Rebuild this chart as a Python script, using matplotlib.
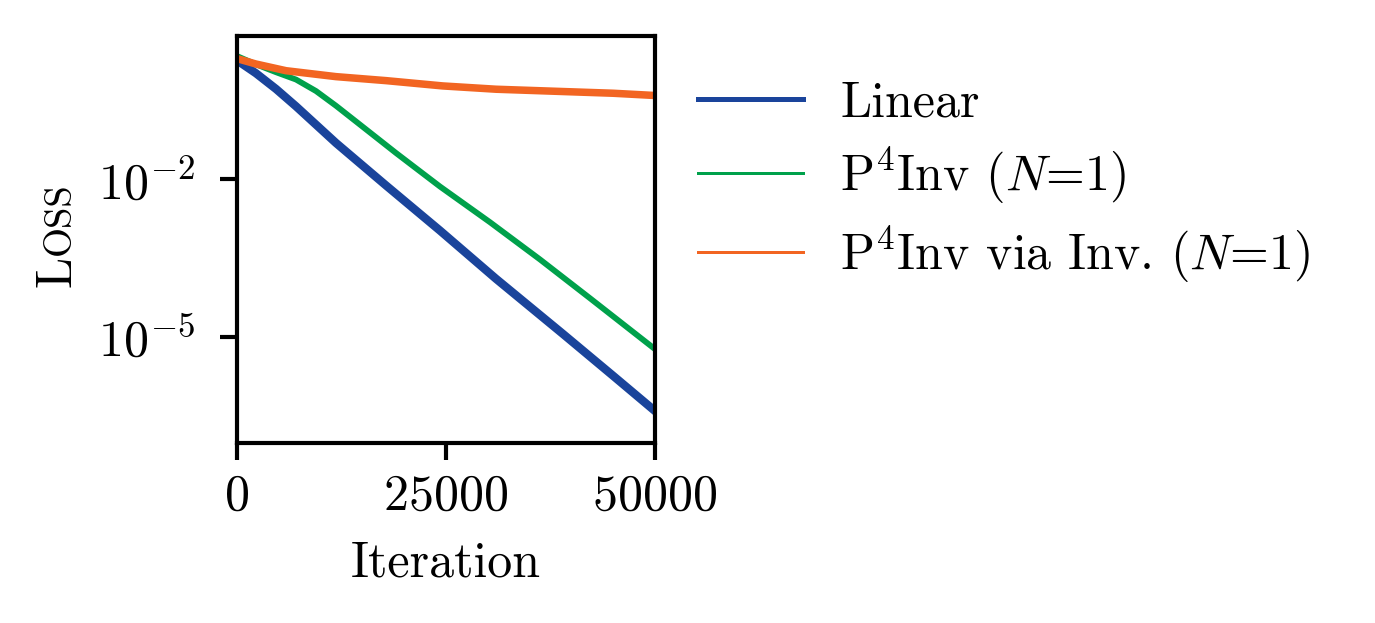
import matplotlib
matplotlib.use("Agg")
import matplotlib.pyplot as plt
import numpy as np

plt.rcParams['font.family'] = 'cmr10'
plt.rcParams['mathtext.fontset'] = 'cm'
plt.rcParams['axes.formatter.use_mathtext'] = True
plt.rcParams['font.size'] = 12

# Data (iteration, loss)
it_linear = [0, 2300, 4700, 7090, 9480, 11870, 17850, 24300, 31000, 39000, 45000, 50000]
loss_linear = [1.862, 1.047, 0.525, 0.245, 0.1096, 0.0490, 7.59e-3, 1.047e-3, 1.26e-4,
               1.12e-5, 1.78e-6, 3.80e-7]

it_p4 = [0, 2300, 4700, 7090, 9480, 11870, 14260, 16650, 19040, 21500, 24300,
         30280, 36250, 42230, 50000]
loss_p4 = [2.239, 1.549, 1.096, 0.794, 0.479, 0.251, 0.1259, 0.0631, 0.0316, 0.01585,
           7.24e-3, 1.51e-3, 2.95e-4, 5.37e-5, 5.75e-6]

it_inv = [0, 2300, 5900, 11870, 17850, 24620, 31000, 39000, 45000, 50000]
loss_inv = [2.00, 1.57, 1.17, 0.902, 0.757, 0.600, 0.519, 0.469, 0.435, 0.394]

labels = ["Linear", r"P$^4$Inv ($N$=1)", r"P$^4$Inv via Inv. ($N$=1)"]
colors = ["#1A449B", "#00A14B", "#F26522"]

W, H = 1375, 623
fig = plt.figure(figsize=(W / 300, H / 300), dpi=300)
ax = fig.add_axes([236.7 / W, 1 - 443 / H, (655 - 236.7) / W, (443 - 36) / H])

l1, = ax.plot(it_linear, loss_linear, color=colors[0], lw=2.0, label=labels[0])
l2, = ax.plot(it_p4, loss_p4, color=colors[1], lw=1.4, label=labels[1])
l3, = ax.plot(it_inv, loss_inv, color=colors[2], lw=1.8, label=labels[2])

ax.set_yscale('log')
ax.set_ylim(10 ** -7.03, 10 ** 0.73)
ax.set_xlim(0, 50000)
ax.set_xticks([0, 25000, 50000])
ax.set_yticks([1e-2, 1e-5])
ax.yaxis.set_minor_locator(matplotlib.ticker.NullLocator())
ax.tick_params(axis='both', which='major', length=4, width=1.0, direction='out')
ax.tick_params(axis='y', pad=6)
for s in ax.spines.values():
    s.set_linewidth(1.0)
ax.set_xlabel("Iteration", labelpad=5)

# small-caps style y label "Loss"
tL = fig.text(70 / W, 1 - 287 / H, "L", rotation=90, rotation_mode='anchor',
              ha='left', va='baseline', fontsize=12)
fig.canvas.draw()
r = fig.canvas.get_renderer()
bb = tL.get_window_extent(r)
tO = fig.text(70 / W, 1 - 287 / H + (bb.height + 1) / H, "OSS", rotation=90,
              rotation_mode='anchor', ha='left', va='baseline', fontsize=9.3)

leg = ax.legend(handles=[l1, l2, l3], loc='upper left',
                bbox_to_anchor=(698 / W, 1 - 81 / H), bbox_transform=fig.transFigure,
                frameon=False, borderpad=0, borderaxespad=0, handlelength=2.1,
                handletextpad=0.75, labelspacing=0.37)
for ln, lw in zip(leg.get_lines(), [1.2, 0.72, 0.72]):
    ln.set_linewidth(lw)

fig.savefig("out.png", dpi=300)
